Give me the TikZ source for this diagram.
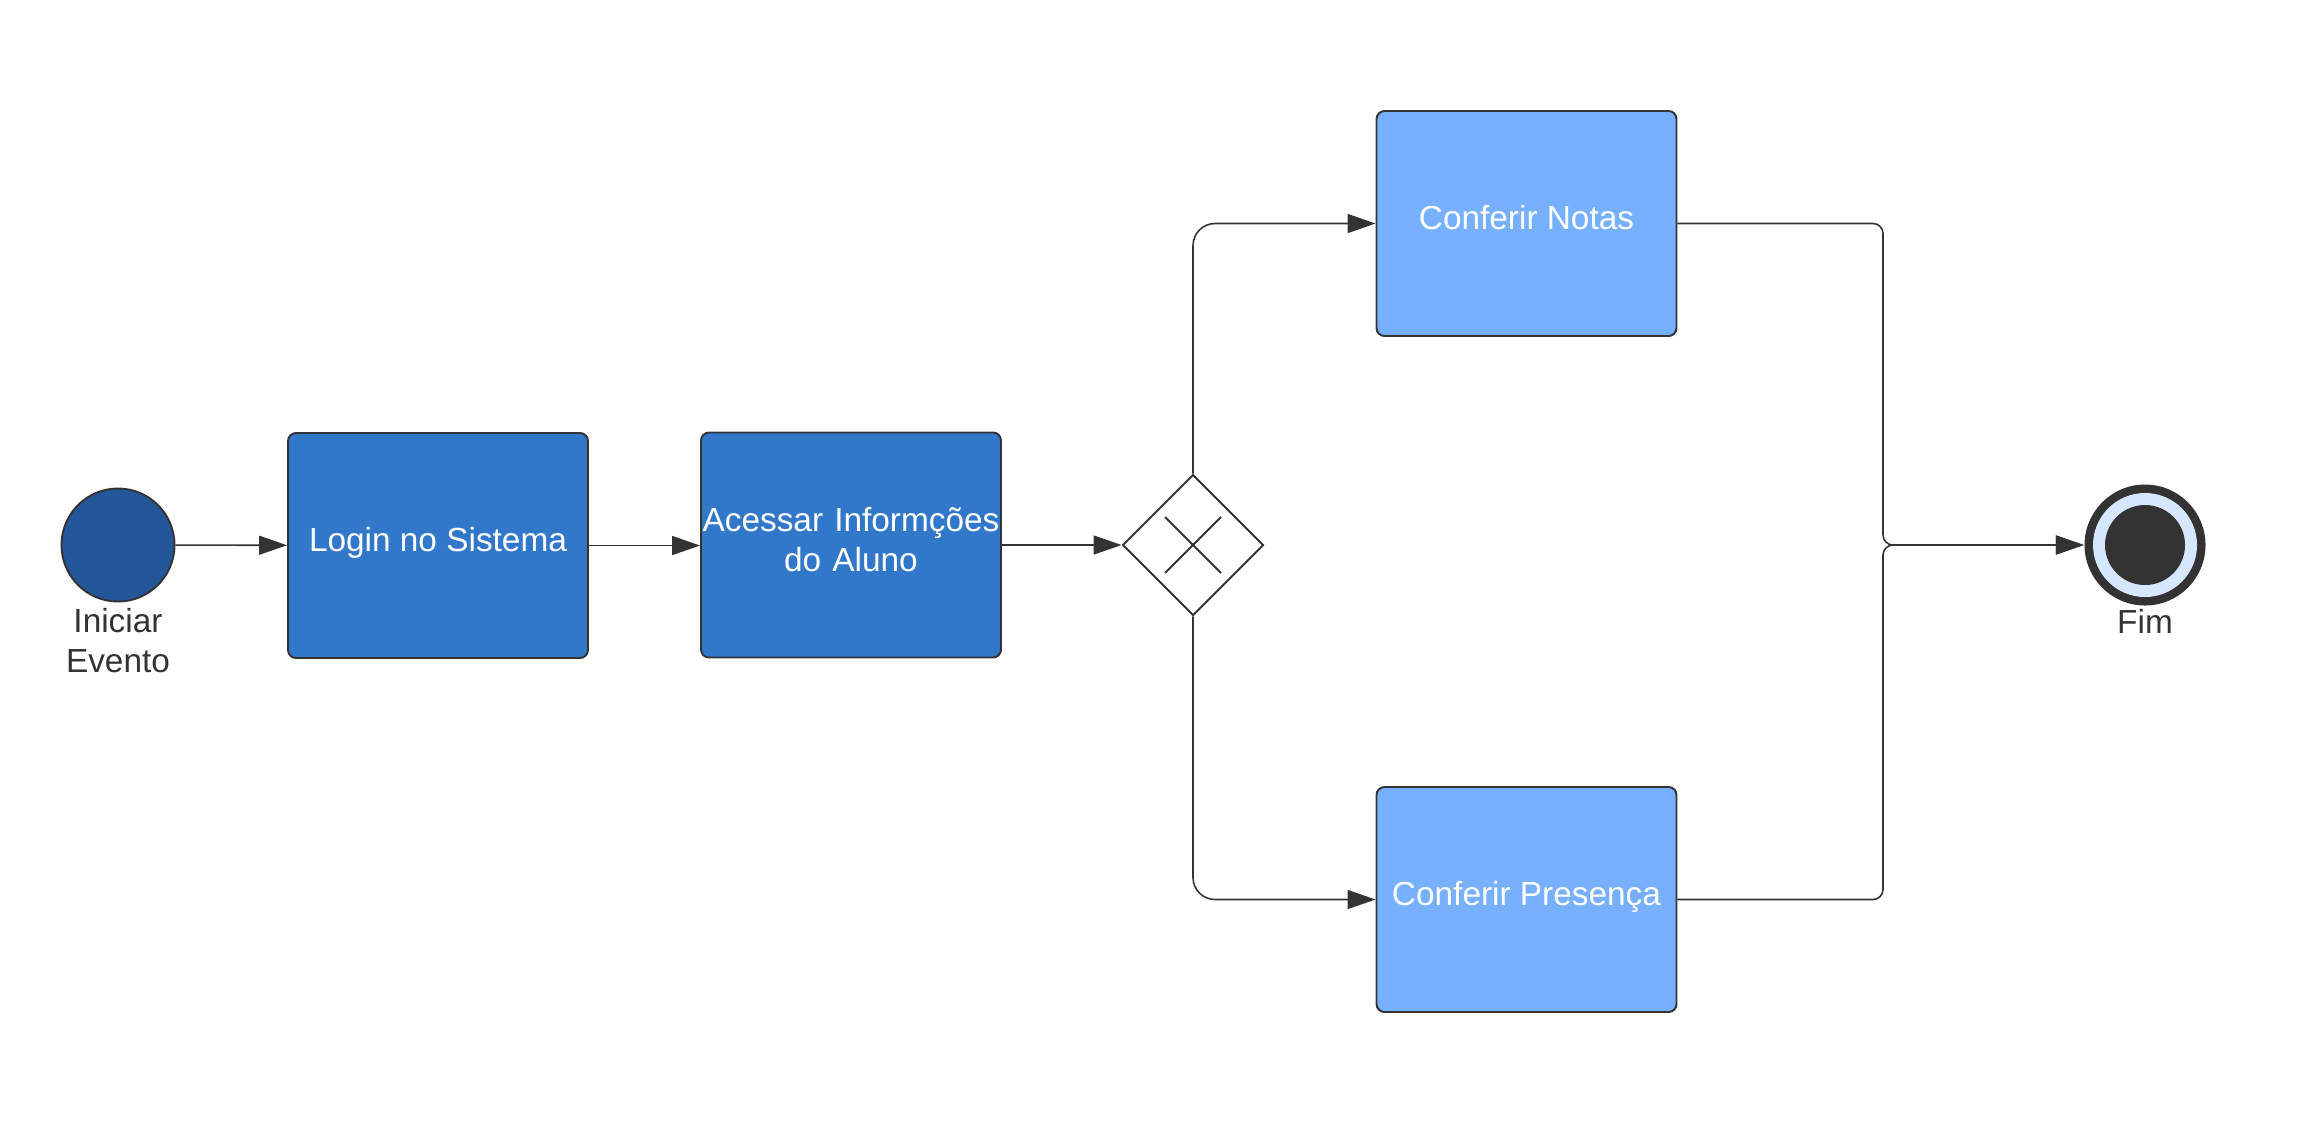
\documentclass[tikz,border=0pt]{standalone}
\usepackage{fontspec}
\setmainfont{Liberation Sans}
\usepackage{xcolor}
\usetikzlibrary{arrows.meta,shapes.geometric}

\definecolor{startblue}{HTML}{23579A}
\definecolor{taskblue}{HTML}{3278CA}
\definecolor{checkblue}{HTML}{76B0FF}
\definecolor{ringblue}{HTML}{D6E8FF}
\definecolor{inkgray}{HTML}{333333}

\begin{document}
\begin{tikzpicture}[
    font=\fontsize{9.5}{11.4}\selectfont,
    task/.style={draw=inkgray, line width=0.55pt, rounded corners=0.08cm,
      minimum width=3.0cm, minimum height=2.25cm, text=white, align=center,
      text height=0.25cm, text depth=0.13cm},
    flow/.style={draw=inkgray, line width=0.45pt, rounded corners=0.22cm,
      -{Triangle[length=0.28cm,width=0.19cm]}},
    caption/.style={text=inkgray, align=center}
  ]
    \useasboundingbox (0,0) rectangle (23.19,-11.25);

    % eventos
    \node[circle, draw=inkgray, line width=0.55pt, fill=startblue, minimum size=1.13cm] (inicio) at (1.18,-5.45) {};
    \node[caption] (inicioTxt) at (1.18,-6.41) {Iniciar\\Evento};
    \node[circle, fill=inkgray, minimum size=1.21cm, inner sep=0pt] (fim) at (21.45,-5.45) {};
    \fill[ringblue] (fim.center) circle (0.52);
    \fill[inkgray] (fim.center) circle (0.40);
    \node[caption] (fimTxt) at (21.45,-6.21) {Fim};

    % tarefas
    \node[task, fill=taskblue] (login) at (4.38,-5.455) {Login no Sistema};
    \node[task, fill=taskblue, text width=3.0cm, inner sep=0pt, text depth=0.52cm] (acessar) at (8.51,-5.45) {Acessar Informções\\do Aluno};
    \node[task, fill=checkblue] (notas) at (15.265,-2.235) {Conferir Notas};
    \node[task, fill=checkblue] (presenca) at (15.265,-8.995) {Conferir Presença};

    % gateway
    \node[diamond, draw=inkgray, line width=0.55pt, fill=white, minimum size=1.41cm, inner sep=0pt] (gw) at (11.93,-5.45) {};
    \draw[inkgray, line width=0.55pt] ([shift={(-0.28,0.28)}]gw.center) -- ([shift={(0.28,-0.28)}]gw.center);
    \draw[inkgray, line width=0.55pt] ([shift={(-0.28,-0.28)}]gw.center) -- ([shift={(0.28,0.28)}]gw.center);

    % fluxos
    \draw[flow] (inicio) -- (login);
    \draw[flow] (login.east) -- (acessar.west |- login.east);
    \draw[flow] (acessar.east) -- (gw.west);
    \draw[flow] (gw.north) |- (notas.west);
    \draw[flow] (gw.south) |- (presenca.west);
    \coordinate (juncao) at (18.83,-5.45);
    \draw[flow, rounded corners=0.1cm] (notas.east) -| (juncao) -- (fim.west);
    \draw[flow, rounded corners=0.1cm] (presenca.east) -| (juncao) -- (fim.west);
  \end{tikzpicture}
\end{document}
